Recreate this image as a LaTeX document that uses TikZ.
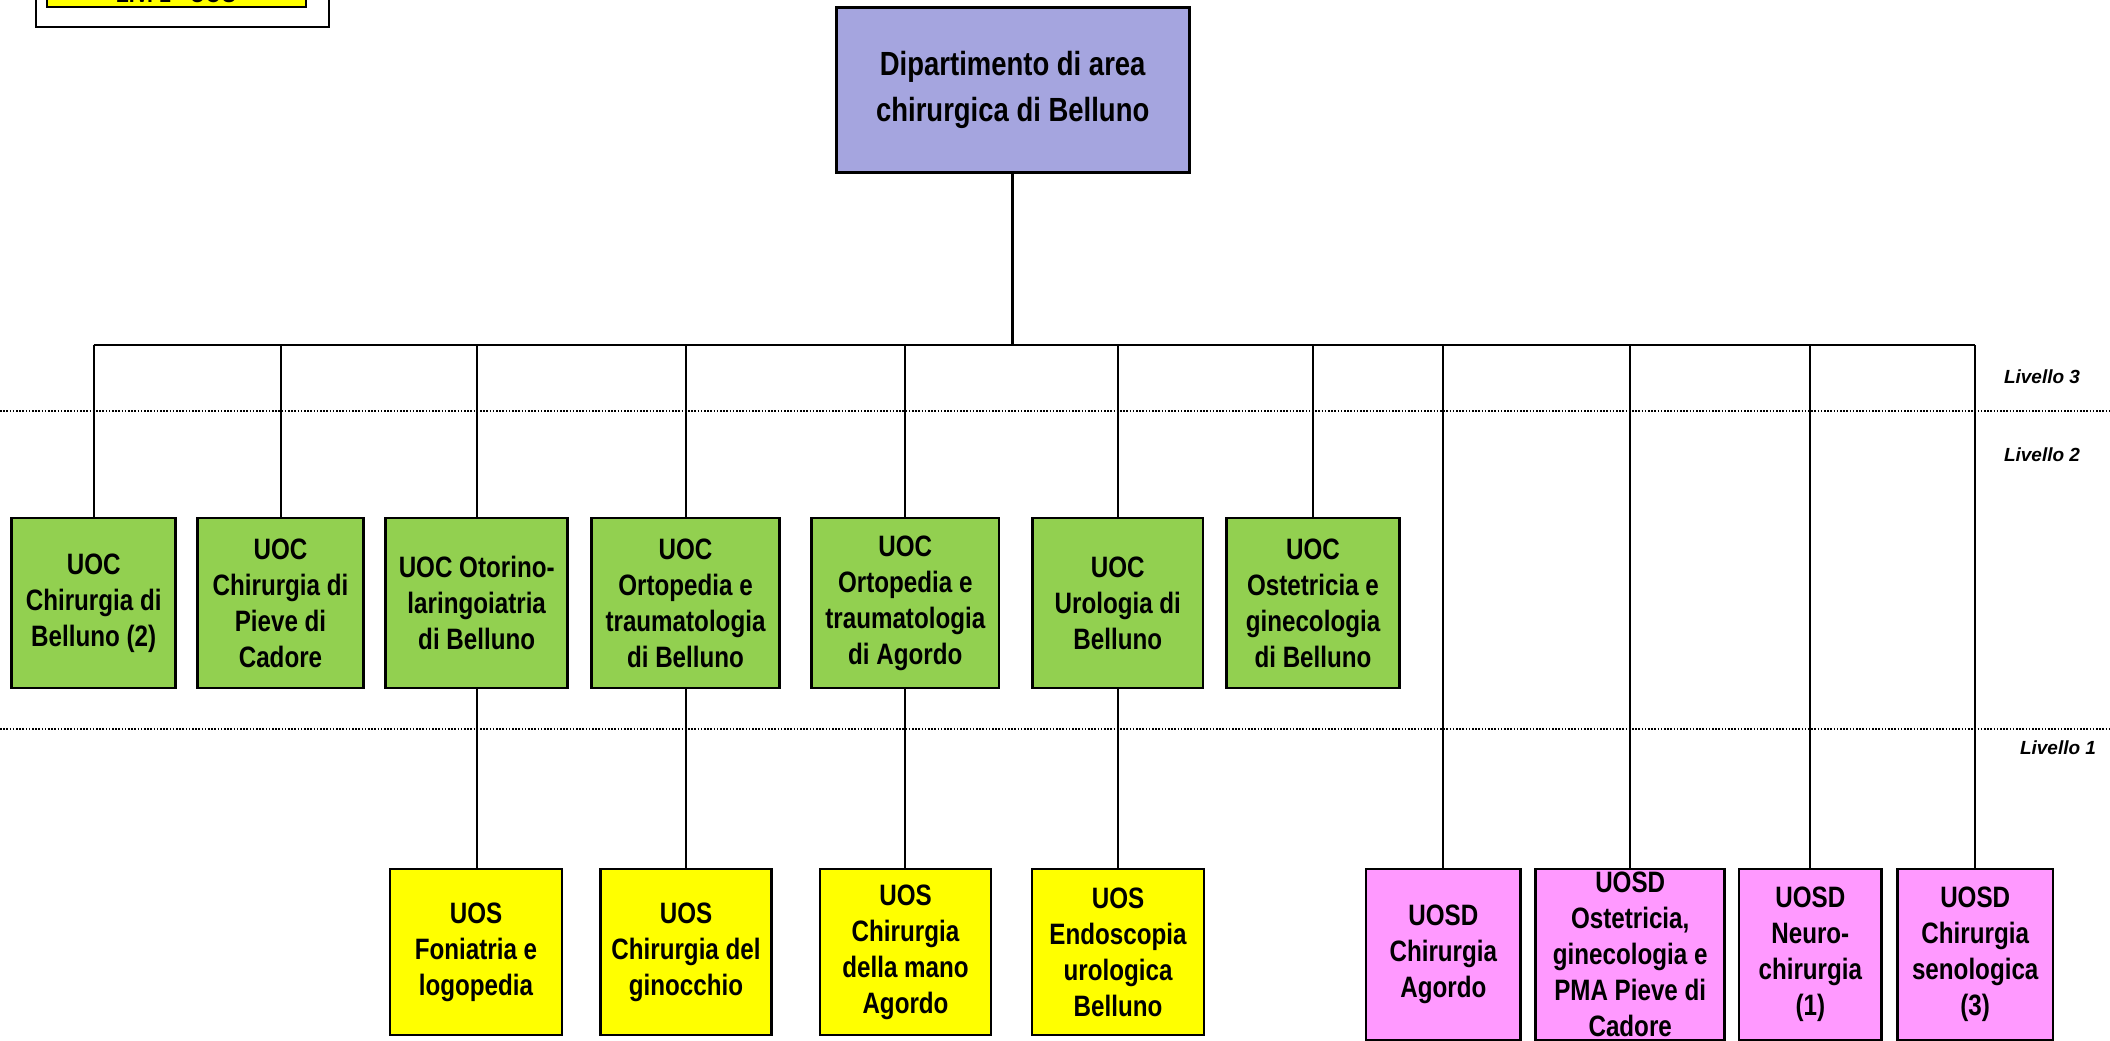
\documentclass[tikz,border=0pt]{standalone}
\usepackage{fontspec}
\setmainfont{Liberation Sans}[FakeStretch=0.82]
\newfontfamily\livfont{Liberation Sans}
\definecolor{lav}{HTML}{A5A5DF}
\definecolor{gr}{HTML}{92D050}
\definecolor{yl}{HTML}{FFFF00}
\definecolor{pk}{HTML}{FF99FF}
\tikzset{
  box/.style={draw=black, line width=2.6pt, inner sep=0pt, align=center,
    font=\fontsize{29.5}{36}\selectfont\bfseries},
  gbox/.style={box, fill=gr, minimum height=170pt},
  ybox/.style={box, fill=yl, minimum height=166pt},
  pbox/.style={box, fill=pk, minimum height=171pt},
  conn/.style={draw=black, line width=2pt},
  dotline/.style={draw=black, line width=1.8pt, dash pattern=on 1.6pt off 1.6pt},
  livlab/.style={font=\fontsize{19}{22}\selectfont\livfont\bfseries\itshape, inner sep=0pt}
}
\begin{document}
\begin{tikzpicture}[x={(1pt,0)}, y={(0,-1pt)}]
\useasboundingbox (0,0) rectangle (2110,1041);
\clip (0,0) rectangle (2110,1041);
\fill[white] (0,0) rectangle (2110,1041);

% legend box (partially visible)
\draw[line width=1.6pt, fill=white] (36,-80) rectangle (329,27);
\node[draw=black, line width=2.4pt, fill=yl, minimum width=259pt, minimum height=60pt, anchor=south, inner sep=0pt] (leg) at (176.5,8) {};
\node[anchor=base, font=\fontsize{26}{30}\selectfont\bfseries, inner sep=0pt] (legtxt) at (176,2.5) {LIV. 1 - UOS};

% level separators
\coordinate (d1L) at (0,410.7); \coordinate (d1R) at (2110,410.7);
\coordinate (d2L) at (0,729); \coordinate (d2R) at (2110,729);
\draw[dotline] (d1L) -- (d1R);
\draw[dotline] (d2L) -- (d2R);

\node[livlab] (liv3) at (2042,377) {Livello 3};
\node[livlab] (liv2) at (2042,455) {Livello 2};
\node[livlab] (liv1) at (2058,748) {Livello 1};

% top node
\node[box, fill=lav, minimum width=353pt, minimum height=165pt,
  font=\fontsize{33.5}{46}\selectfont\bfseries] (top) at (1012.7,89.8)
  {Dipartimento di area\\chirurgica di Belluno};

% level 2 (green)
\node[gbox, minimum width=164pt] (g1) at (93.7,603) {UOC\\Chirurgia di\\Belluno (2)};
\node[gbox, minimum width=165.6pt] (g2) at (280.5,603) {UOC\\Chirurgia di\\Pieve di\\Cadore};
\node[gbox, minimum width=182pt] (g3) at (476.7,603) {UOC Otorino-\\laringoiatria\\di Belluno};
\node[gbox, minimum width=187.6pt] (g4) at (685.5,603) {UOC\\Ortopedia e\\traumatologia\\di Belluno};
\node[gbox, minimum width=187.3pt] (g5) at (905.3,603) {UOC\\Ortopedia e\\traumatologia\\di Agordo};
\node[gbox, minimum width=170.3pt] (g6) at (1117.8,603) {UOC\\Urologia di\\Belluno};
\node[gbox, minimum width=173.4pt] (g7) at (1313,603) {UOC\\Ostetricia e\\ginecologia\\di Belluno};

% level 1 (yellow)
\node[ybox, minimum width=172pt] (y1) at (476,952) {UOS\\Foniatria e\\logopedia};
\node[ybox, minimum width=171pt] (y2) at (686,952) {UOS\\Chirurgia del\\ginocchio};
\node[ybox, minimum width=171pt] (y3) at (905.5,952) {UOS\\Chirurgia\\della mano\\Agordo};
\node[ybox, minimum width=172pt] (y4) at (1118,952) {UOS\\Endoscopia\\urologica\\Belluno};

% UOSD (pink)
\node[pbox, minimum width=154.7pt] (p1) at (1443.3,954.5) {UOSD\\Chirurgia\\Agordo};
\node[pbox, minimum width=189pt] (p2) at (1630.2,954.5) {UOSD\\Ostetricia,\\ginecologia e\\PMA Pieve di\\Cadore};
\node[pbox, minimum width=142.7pt] (p3) at (1810.3,954.5) {UOSD\\Neuro-\\chirurgia\\(1)};
\node[pbox, minimum width=155.5pt] (p4) at (1975.2,954.5) {UOSD\\Chirurgia\\senologica\\(3)};

% connectors
\coordinate (busL) at (93.7,345);
\coordinate (busR) at (1975.2,345);
\draw[line width=3pt] (top.south) -- (top.south |- busL);
\draw[conn] (busL) -- (busR);
\foreach \n in {g1,g2,g3,g4,g5,g6,g7,p1,p2,p3,p4}
  \draw[conn] (\n.north |- busL) -- (\n.north);
\draw[conn] (g3.south) -- (g3.south |- y1.north);
\draw[conn] (g4.south) -- (g4.south |- y2.north);
\draw[conn] (g5.south) -- (g5.south |- y3.north);
\draw[conn] (g6.south) -- (g6.south |- y4.north);
\end{tikzpicture}
\end{document}
